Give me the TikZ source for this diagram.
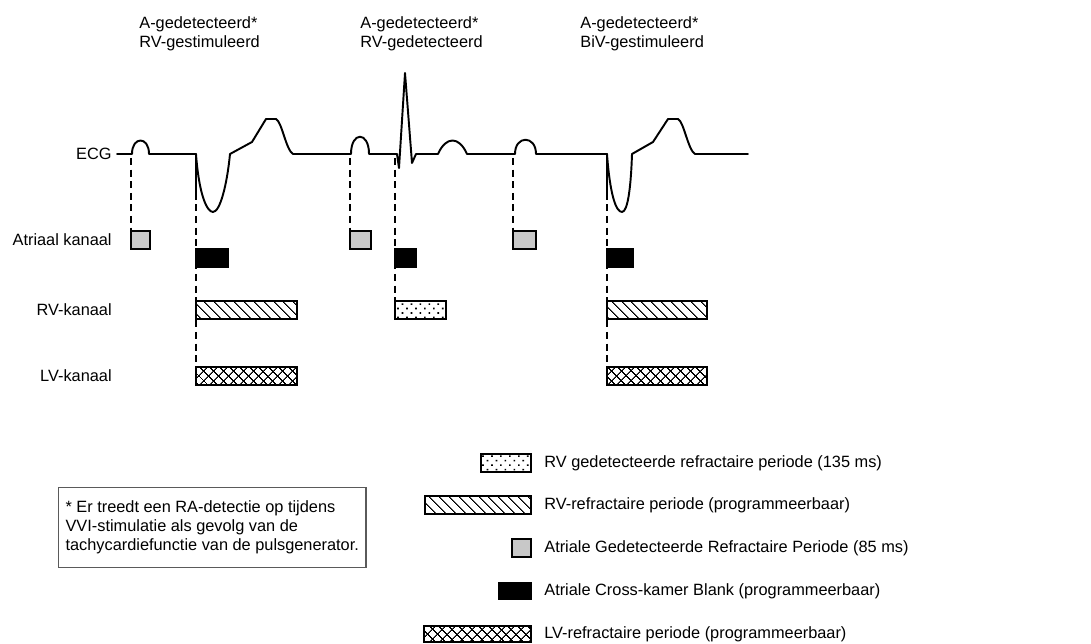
\documentclass[tikz,border=0pt]{standalone}
\usepackage{fontspec}
\setmainfont{Liberation Sans}
\usetikzlibrary{patterns.meta,backgrounds}

\definecolor{agrey}{RGB}{200,200,200}
\definecolor{notegrey}{RGB}{90,90,90}

\tikzset{
    lbl/.style={inner sep=0pt, font=\fontsize{9.3}{10.8}\selectfont},
    ecgline/.style={line width=1.1pt, line join=round, line cap=round},
    guide/.style={line width=0.8pt, dash pattern=on 4pt off 2.6pt},
    chanbox/.style={draw, line width=0.9pt, inner sep=0pt, outer sep=0pt, minimum height=0.36cm},
    abox/.style={chanbox, fill=agrey, minimum width=#1},
    cbox/.style={chanbox, fill=black, minimum height=0.37cm, minimum width=#1},
    rvbox/.style={chanbox, minimum width=#1, pattern={Lines[angle=-45, distance=4pt, line width=0.6pt]}},
    rvdbox/.style={chanbox, minimum width=#1, pattern={Dots[angle=45, distance=3.6pt, radius=0.65pt]}},
    lvbox/.style={chanbox, minimum width=#1, pattern={Hatch[angle=45, distance=4pt, line width=0.6pt]}}
}

\begin{document}
\begin{tikzpicture}[x=0.02cm, y=-0.02cm]
    \useasboundingbox (0,0) rectangle (1091,644);

    \node[lbl, anchor=north west, align=left] (ev1) at (139,16) {A-gedetecteerd*\\RV-gestimuleerd};
    \node[lbl, anchor=north west, align=left] (ev2) at (360,16) {A-gedetecteerd*\\RV-gedetecteerd};
    \node[lbl, anchor=north west, align=left] (ev3) at (580,16) {A-gedetecteerd*\\BiV-gestimuleerd};

    \node[lbl, anchor=east] (ecg) at (112,154) {ECG};
    \node[lbl, anchor=east] (atr) at (112,240) {Atriaal kanaal};
    \node[lbl, anchor=east] (rvk) at (112,310) {RV-kanaal};
    \node[lbl, anchor=east] (lvk) at (112,376) {LV-kanaal};

    \draw[ecgline] (117,154) -- (132,154) .. controls (132,136) and (149,136) .. (149,154)
        -- (196,154) .. controls (199,195) and (207,212) .. (213,212)
        .. controls (220,212) and (227,185) .. (230,154) -- (252,142) -- (266,119) -- (276,119)
        .. controls (282,122) and (286,150) .. (293,154)
        -- (351,154) .. controls (351,131) and (369,131) .. (369,154)
        -- (397,154) -- (399,168) -- (405,73) -- (412,163) -- (416,154)
        -- (438,154) .. controls (446,136) and (459,136) .. (467,154)
        -- (515,154) .. controls (515,135) and (536,135) .. (536,154)
        -- (607,154) .. controls (610,195) and (616,212) .. (622,212)
        .. controls (628,212) and (631,185) .. (632,154) -- (653,142) -- (668,119) -- (678,119)
        .. controls (684,122) and (688,150) .. (695,154) -- (748,154);
    \draw[ecgline] (196,154) -- (196,195);
    \draw[ecgline] (607,154) -- (607,195);

    \coordinate (pa1) at (131,158);
    \coordinate (pv1) at (196,158);
    \coordinate (pa2) at (350,158);
    \coordinate (pv2) at (395,158);
    \coordinate (pa3) at (513,158);
    \coordinate (pv3) at (607,158);

    \node[abox=0.38cm, anchor=north west] (as1) at (131,231) {};
    \node[abox=0.42cm, anchor=north west] (as2) at (350,231) {};
    \node[abox=0.46cm, anchor=north west] (as3) at (513,231) {};

    \node[cbox=0.64cm, anchor=north west] (cb1) at (196,249) {};
    \node[cbox=0.42cm, anchor=north west] (cb2) at (395,249) {};
    \node[cbox=0.52cm, anchor=north west] (cb3) at (607,249) {};

    \node[rvbox=2.02cm, anchor=north west] (rv1) at (196,301) {};
    \node[rvdbox=1.02cm, anchor=north west] (rv2) at (395,301) {};
    \node[rvbox=2.0cm, anchor=north west] (rv3) at (607,301) {};

    \node[lvbox=2.02cm, anchor=north west] (lv1) at (196,367) {};
    \node[lvbox=2.0cm, anchor=north west] (lv3) at (607,367) {};

    \begin{scope}[on background layer]
        \draw[guide] (pa1) -- (as1.north west);
        \draw[guide] (pv1) -- (lv1.north west);
        \draw[guide] (pa2) -- (as2.north west);
        \draw[guide] (pv2) -- (rv2.north west);
        \draw[guide] (pa3) -- (as3.north west);
        \draw[guide] (pv3) -- (lv3.north west);
    \end{scope}

    \node[draw=notegrey, line width=0.6pt, lbl, inner xsep=4pt, minimum height=1.6cm, align=left, anchor=north west] (note) at (58,487)
        {* Er treedt een RA-detectie op tijdens\\VVI-stimulatie als gevolg van de\\tachycardiefunctie van de pulsgenerator.};

    \node[rvdbox=1.0cm, anchor=east] (k1) at (531,463) {};
    \node[rvbox=2.12cm, anchor=east] (k2) at (531,505) {};
    \node[abox=0.38cm, anchor=east] (k3) at (531,548) {};
    \node[cbox=0.64cm, minimum height=0.33cm, anchor=east] (k4) at (531,591) {};
    \node[lvbox=2.14cm, minimum height=0.33cm, anchor=east] (k5) at (531,634) {};

    \node[lbl, anchor=west] (t1) at (544,463) {RV gedetecteerde refractaire periode (135 ms)};
    \node[lbl, anchor=west] (t2) at (544,505) {RV-refractaire periode (programmeerbaar)};
    \node[lbl, anchor=west] (t3) at (544,548) {Atriale Gedetecteerde Refractaire Periode (85 ms)};
    \node[lbl, anchor=west] (t4) at (544,591) {Atriale Cross-kamer Blank (programmeerbaar)};
    \node[lbl, anchor=west] (t5) at (544,634) {LV-refractaire periode (programmeerbaar)};
\end{tikzpicture}
\end{document}
